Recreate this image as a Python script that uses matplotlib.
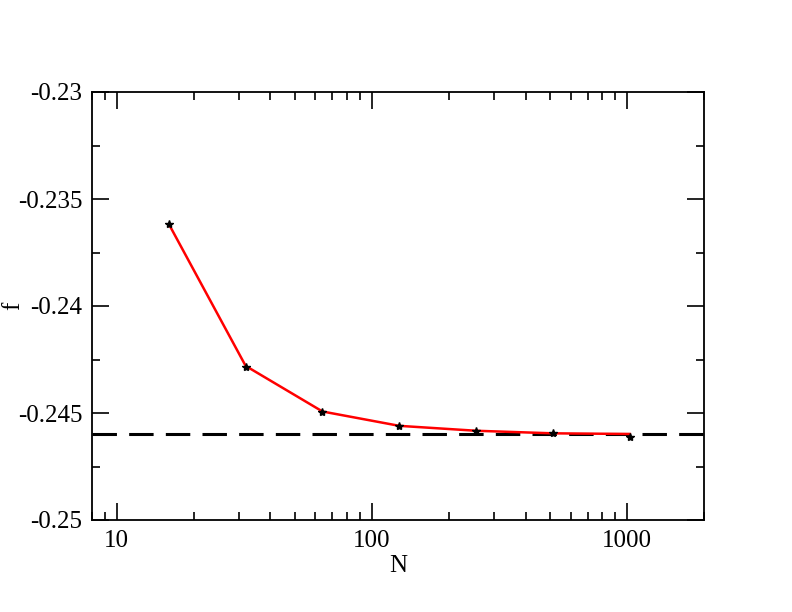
import numpy as np
import matplotlib
matplotlib.use("Agg")
import matplotlib.pyplot as plt
from matplotlib.ticker import LogLocator, MultipleLocator, NullFormatter, FuncFormatter

# system sizes and free energy per site
N = [16, 32, 64, 128, 256, 512, 1024]
f_data = [-0.23617, -0.24285, -0.24495, -0.24562, -0.24584, -0.24595, -0.24614]
# red curve drawn through the data
f_line = [-0.23617, -0.24280, -0.24493, -0.24560, -0.24583, -0.24595, -0.24598]
# extrapolated limit
f_inf = -0.24598

plt.rcParams['font.family'] = ['Liberation Serif', 'DejaVu Serif']

fig = plt.figure(figsize=(7.92, 6.12), dpi=100)
ax = fig.add_axes([92/792, 1 - 520/612, (704-92)/792, (520-92)/612])

ax.axhline(f_inf, color='black', lw=2.2, dashes=(8, 4))
ax.plot(N, f_line, color='red', lw=1.8)
ax.plot(N, f_data, ls='none', marker='*', color='black', ms=6)

ax.set_xscale('log')
ax.set_xlim(8, 2000)
ax.set_ylim(-0.25, -0.23)

ax.xaxis.set_major_locator(LogLocator(base=10))
ax.xaxis.set_minor_locator(LogLocator(base=10, subs=np.arange(2, 10)))
ax.xaxis.set_minor_formatter(NullFormatter())
ax.xaxis.set_major_formatter(FuncFormatter(lambda v, p: '%d' % v))
ax.yaxis.set_major_locator(MultipleLocator(0.005))
ax.yaxis.set_minor_locator(MultipleLocator(0.0025))
ax.yaxis.set_major_formatter(FuncFormatter(lambda v, p: ('%g' % round(v, 4))))

ax.tick_params(which='both', direction='in', top=True, right=True, labelsize=18, width=1.2)
ax.tick_params(which='major', length=12, pad=7)
ax.tick_params(which='minor', length=6)
for s in ax.spines.values():
    s.set_linewidth(1.3)

ax.set_xlabel('N', fontsize=18, labelpad=2)
ax.set_ylabel('f', fontsize=18)
ax.yaxis.set_label_coords(-0.11, 0.5)

fig.savefig('out.png', dpi=100)
